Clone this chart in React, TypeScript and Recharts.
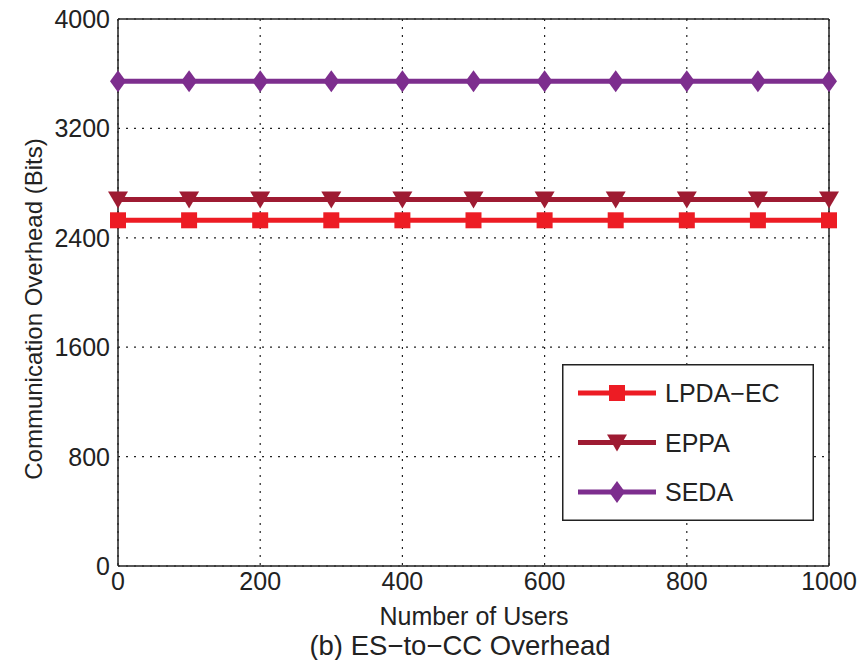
import React from "react";
import {
  LineChart,
  Line,
  XAxis,
  YAxis,
  CartesianGrid,
  ReferenceLine,
} from "recharts";

// number of users (x) and overhead in bits for each scheme
const users = [0, 100, 200, 300, 400, 500, 600, 700, 800, 900, 1000];
const lpdaEc = [2528, 2528, 2528, 2528, 2528, 2528, 2528, 2528, 2528, 2528, 2528];
const eppa = [2680, 2680, 2680, 2680, 2680, 2680, 2680, 2680, 2680, 2680, 2680];
const seda = [3544, 3544, 3544, 3544, 3544, 3544, 3544, 3544, 3544, 3544, 3544];

const xTicks = [0, 200, 400, 600, 800, 1000];
const yTicks = [0, 800, 1600, 2400, 3200, 4000];

const seriesNames = ["LPDA\u2212EC", "EPPA", "SEDA"];

const RED = "#ed1c24";
const DARK_RED = "#9e1b32";
const PURPLE = "#7d2e8e";
const INK = "#222";
const FONT = "'Liberation Sans', Arial, Helvetica, sans-serif";

const data = users.map((u, i) => ({
  users: u,
  lpda: lpdaEc[i],
  eppa: eppa[i],
  seda: seda[i],
}));

// marker shapes
const square = (cx: number, cy: number, color: string) => (
  <rect x={cx - 8} y={cy - 8} width={16} height={16} fill={color} />
);
const triDown = (cx: number, cy: number, color: string) => (
  <polygon
    points={`${cx - 10},${cy - 8} ${cx + 10},${cy - 8} ${cx},${cy + 9}`}
    fill={color}
  />
);
const diamond = (cx: number, cy: number, color: string) => (
  <polygon
    points={`${cx},${cy - 11} ${cx + 8},${cy} ${cx},${cy + 11} ${cx - 8},${cy}`}
    fill={color}
  />
);

const dot = (shape: typeof square, color: string) => (p: any) => (
  <g key={`${color}-${p.index}`}>{shape(p.cx, p.cy, color)}</g>
);

const XTick = (p: any) => (
  <text
    x={p.x}
    y={590}
    textAnchor="middle"
    fontSize={25}
    fontFamily={FONT}
    fill={INK}
  >
    {p.payload.value}
  </text>
);

const YTick = (p: any) => (
  <text
    x={110}
    y={p.y}
    textAnchor="end"
    dominantBaseline="central"
    fontSize={25}
    fontFamily={FONT}
    fill={INK}
  >
    {p.payload.value}
  </text>
);

const legendRows = [
  { name: seriesNames[0], color: RED, shape: square },
  { name: seriesNames[1], color: DARK_RED, shape: triDown },
  { name: seriesNames[2], color: PURPLE, shape: diamond },
];

const LegendBox = () => (
  <svg width={252} height={157} style={{ display: "block" }}>
    <rect x={0.75} y={0.75} width={250.5} height={155.5} fill="#fff" stroke={INK} strokeWidth={1.5} />
    {legendRows.map((r, i) => {
      const cy = 29 + i * 49.5;
      return (
        <g key={r.name}>
          <line x1={16} x2={94} y1={cy} y2={cy} stroke={r.color} strokeWidth={5} />
          {r.shape(55, cy, r.color)}
          <text
            x={103}
            y={cy}
            dominantBaseline="central"
            fontSize={25}
            fontFamily={FONT}
            fill={INK}
          >
            {r.name}
          </text>
        </g>
      );
    })}
  </svg>
);

export default function App() {
  return (
    <div style={{ position: "absolute", left: 0, top: 0, width: 865, height: 660, background: "#fff" }}>
      <LineChart
        width={865}
        height={660}
        data={data}
        margin={{ top: 19, right: 36, left: 0, bottom: 0 }}
      >
        <CartesianGrid stroke={INK} strokeDasharray="2 6" strokeWidth={1.2} />
        <XAxis
          dataKey="users"
          type="number"
          domain={[0, 1000]}
          ticks={xTicks}
          height={94}
          stroke={INK}
          strokeWidth={1.5}
          tickLine={false}
          tick={<XTick />}
          label={{
            content: () => (
              <g>
                <text x={474} y={625} textAnchor="middle" fontSize={25} fontFamily={FONT} fill={INK}>
                  Number of Users
                </text>
                <text x={460} y={655} textAnchor="middle" fontSize={27.5} fontFamily={FONT} fill={INK}>
                  (b) ES{"\u2212"}to{"\u2212"}CC Overhead
                </text>
              </g>
            ),
          }}
        />
        <YAxis
          type="number"
          domain={[0, 4000]}
          ticks={yTicks}
          width={118}
          stroke={INK}
          strokeWidth={1.5}
          tickLine={false}
          tick={<YTick />}
          label={{
            content: () => (
              <text
                x={33}
                y={309}
                transform="rotate(-90 33 309)"
                textAnchor="middle"
                dominantBaseline="central"
                fontSize={24}
                fontFamily={FONT}
                fill={INK}
              >
                Communication Overhead (Bits)
              </text>
            ),
          }}
        />
        <ReferenceLine y={4000} stroke={INK} strokeWidth={1.5} />
        <ReferenceLine x={1000} stroke={INK} strokeWidth={1.5} />
        <Line
          dataKey="lpda"
          name={seriesNames[0]}
          stroke={RED}
          strokeWidth={5}
          dot={dot(square, RED)}
          isAnimationActive={false}
        />
        <Line
          dataKey="eppa"
          name={seriesNames[1]}
          stroke={DARK_RED}
          strokeWidth={5}
          dot={dot(triDown, DARK_RED)}
          isAnimationActive={false}
        />
        <Line
          dataKey="seda"
          name={seriesNames[2]}
          stroke={PURPLE}
          strokeWidth={5}
          dot={dot(diamond, PURPLE)}
          isAnimationActive={false}
        />
      </LineChart>
      <div style={{ position: "absolute", left: 562, top: 364 }}>
        <LegendBox />
      </div>
    </div>
  );
}
